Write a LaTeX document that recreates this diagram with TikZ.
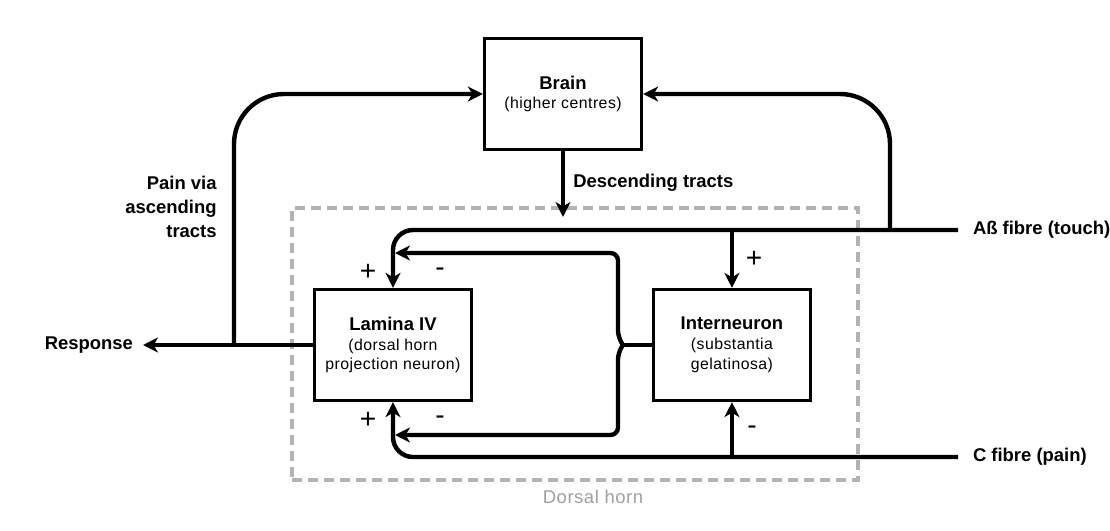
\documentclass[tikz,border=0pt]{standalone}
\usepackage{fontspec}
\setmainfont{Liberation Sans}
\newfontfamily\spacedfont[LetterSpace=3]{Liberation Sans}
\newcommand\neurosub{\spacedfont\fontsize{9}{11.3}\selectfont}
\usetikzlibrary{arrows.meta}

\begin{document}
\begin{tikzpicture}[x=0.02cm, y=-0.02cm, node distance=6.78cm, auto,
  >={Stealth[length=8.5pt, width=8.5pt, inset=2.5pt]},
  link/.style={line width=2.5pt},
  neuron/.style={draw, line width=1.9pt, minimum width=3.14cm, minimum height=2.22cm,
    align=center, font=\fontsize{10.5}{11.3}\selectfont},
  tag/.style={font=\bfseries\fontsize{10.5}{13.5}\selectfont, inner sep=0pt},
  fibre/.style={outer sep=0.3cm},
  sign/.style={font=\fontsize{16}{16}\selectfont, inner sep=0pt},
  hornbox/.style={draw=gray!60, line width=1.8pt, dash pattern=on 5.7pt off 3.4pt}]

  \useasboundingbox (0,0) rectangle (1110,531);

  \node[hornbox, minimum width=11.32cm, minimum height=5.44cm] (horn) at (575,344) {};
  \node[text=gray!75, font=\spacedfont\fontsize{10.5}{12}\selectfont] (hornl) at (593,497) {Dorsal horn};

  \node[neuron] (brain) at (563,94) {\textbf{Brain}\\\neurosub(higher centres)};
  \node[neuron] (lamina) at (393,345) {\textbf{Lamina IV}\\\neurosub(dorsal horn\\\neurosub projection neuron)};
  \node[neuron, right of=lamina] (inter) {\textbf{Interneuron}\\\neurosub(substantia\\\neurosub gelatinosa)};

  \node[tag, fibre, anchor=west] (abeta) at (958,230) {Aß fibre (touch)};
  \node[tag, fibre, anchor=west] (cfibre) at (958,457) {C fibre (pain)};
  \node[tag, outer sep=0.2cm, anchor=east] (response) at (143,345) {Response};
  \node[tag, anchor=west] (descl) at (573,183) {Descending tracts};
  \node[tag, anchor=east, align=right] (ascl) at (217,207) {Pain via\\ascending\\tracts};

  \coordinate (asc) at (234,345);
  \coordinate (touch) at (890,230);
  \coordinate (desc) at (563,217);
  \coordinate (fbtop) at (395,253);
  \coordinate (fbbot) at (395,435);
  \coordinate (brace) at (623,345);

  \draw[link, ->] (lamina) -- (response);
  \draw[link, ->, rounded corners=1cm] (asc) |- (brain);
  \draw[link, ->, rounded corners=1cm] (touch) |- (brain);
  \draw[link, ->] (brain) -- (desc);

  \draw[link, ->, rounded corners=0.4cm] (abeta) -| (lamina);
  \draw[link, ->, rounded corners=0.4cm] (cfibre) -| (lamina);
  \draw[link, ->] (inter |- abeta) -- (inter);
  \draw[link, ->] (inter |- cfibre) -- (inter);

  \draw[link] (inter) -- (brace);
  \draw[link, ->, rounded corners=0.15cm] (brace) -- ++(-5,-7) |- (fbtop);
  \draw[link, ->, rounded corners=0.15cm] (brace) -- ++(-5,7) |- (fbbot);

  \node[sign] (plustop) at (368,272) {+};
  \node[sign] (minustop) at (440,272) {-};
  \node[sign] (plusbot) at (368,420) {+};
  \node[sign] (minusbot) at (440,420) {-};
  \node[sign] (plusinter) at (754,259) {+};
  \node[sign] (minusinter) at (752,430) {-};

\end{tikzpicture}
\end{document}
